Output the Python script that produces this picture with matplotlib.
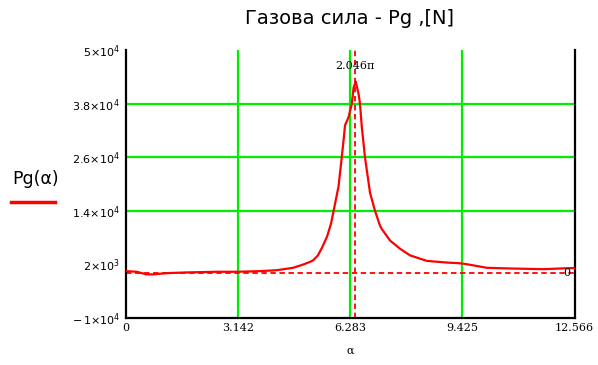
import numpy as np
import matplotlib.pyplot as plt

# Gas force Pg(alpha) over two crank revolutions
alpha = [0.0, 0.03, 0.31, 0.59, 0.77, 1.15, 1.71, 2.55, 3.11, 3.76, 4.23, 4.69,
         4.97, 5.16, 5.25, 5.38, 5.50, 5.64, 5.75, 5.82, 5.96, 6.05, 6.10, 6.14, 6.24,
         6.33, 6.38, 6.44, 6.52, 6.56, 6.61, 6.70, 6.84, 6.98, 7.12, 7.17, 7.40,
         7.68, 7.96, 8.43, 8.99, 9.36, 9.55, 10.11, 10.76, 11.70, 12.17, 12.566]
pg = [500, 490, 350, -240, -240, 40, 200, 350, 350, 490, 700, 1240,
      1970, 2570, 2920, 4000, 5800, 8300, 11200, 14000, 19530, 26170, 29860, 33190, 35030,
      38000, 41660, 43000, 40200, 38000, 32800, 25950, 18070, 14000, 10670, 9940, 7350,
      5510, 4030, 2790, 2410, 2260, 2040, 1240, 1085, 930, 1085, 1200]

x_ticks = [0, np.pi, 2 * np.pi, 3 * np.pi, 4 * np.pi]
x_labels = ['0', '3.142', '6.283', '9.425', '12.566']
y_ticks = [-10000, 2000, 14000, 26000, 38000, 50000]
y_labels = [r'$-\,1{\times}10^{4}$', r'$2{\times}10^{3}$', r'$1.4{\times}10^{4}$',
            r'$2.6{\times}10^{4}$', r'$3.8{\times}10^{4}$', r'$5{\times}10^{4}$']
marker_x = 2.046 * np.pi

fig = plt.figure(figsize=(5.98, 3.65), dpi=100)
ax = fig.add_axes([0.210, 0.129, 0.751, 0.733])

# green grid
for gx in [np.pi, 2 * np.pi, 3 * np.pi]:
    ax.axvline(gx, color='#00ee00', lw=1.6, zorder=1)
for gy in [14000, 26000, 38000]:
    ax.axhline(gy, color='#00ee00', lw=1.6, zorder=1)

# markers
ax.axvline(marker_x, color='red', lw=1.3, ls=(0, (3, 2)), zorder=2)
ax.axhline(0, color='red', lw=1.3, ls=(0, (3, 2)), zorder=2)

ax.plot(alpha, pg, color='red', lw=1.6, zorder=3)

ax.set_xlim(0, 4 * np.pi)
ax.set_ylim(-10000, 50000)
ax.set_xticks(x_ticks)
ax.set_xticklabels(x_labels, family='DejaVu Serif', fontsize=8)
ax.set_yticks(y_ticks)
ax.set_yticklabels(y_labels, fontsize=8)
ax.tick_params(length=0, pad=4)
ax.spines['top'].set_visible(False)
for s in ['left', 'right', 'bottom']:
    ax.spines[s].set_linewidth(1.6)

ax.text(marker_x, 46500, '2.046\u03c0', ha='center', va='center',
        family='DejaVu Serif', fontsize=8)
ax.text(4 * np.pi - 0.12, 0, '0', ha='right', va='center',
        family='DejaVu Serif', fontsize=8)

fig.text(0.585, 0.95, '\u0413\u0430\u0437\u043e\u0432\u0430 \u0441\u0438\u043b\u0430 - Pg ,[N]',
         ha='center', va='center', fontsize=14)
fig.text(0.06, 0.51, 'Pg(\u03b1)', ha='center', va='center', fontsize=12.5)
fig.add_artist(plt.Line2D([0.018, 0.092], [0.447, 0.447], color='red', lw=2.5))
fig.text(0.585, 0.04, '\u03b1', ha='center', va='center', fontsize=8,
         family='DejaVu Serif')

fig.savefig('out.png', dpi=100)
